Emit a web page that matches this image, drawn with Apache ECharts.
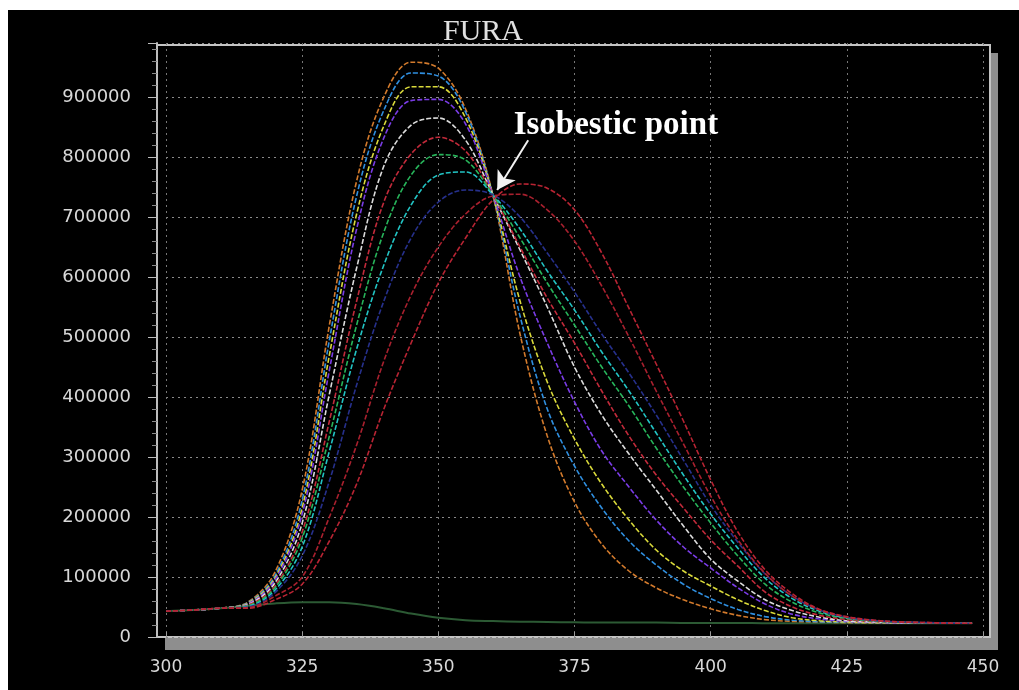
<!DOCTYPE html>
<html>
<head>
<meta charset="utf-8">
<script src="https://cdn.jsdelivr.net/npm/echarts@6/dist/echarts.min.js"></script>
<style>
  html, body { margin: 0; padding: 0; background: #ffffff; }
  #chart { position: absolute; left: 8px; top: 10px; width: 1011px; height: 680px; background: #000; }
</style>
</head>
<body>
<div id="chart"></div>
<script>
// ---- data ----
const wavelengths = [300,305,310,315,320,325,330,335,340,345,350,355,360,365,370,375,380,385,390,395,400,405,410,415,420,425,430,435,440,445,448];

const orange = [43000,45000,48000,58000,108000,245000,520000,760000,900000,958000,948000,880000,737000,505000,335000,225000,155000,110000,82000,62000,47000,36000,29000,26000,25000,24000,23500,23000,23000,23000,23000];
const blue   = [43000,45000,48000,57000,102000,228000,495000,735000,878000,940000,935000,875000,737000,535000,380000,285000,215000,160000,120000,88000,64000,46000,34000,28000,25500,24500,24000,23500,23000,23000,23000];
const yellow = [43000,45000,48000,56000,98000,215000,470000,705000,852000,917000,917000,865000,737000,560000,425000,330000,255000,195000,145000,110000,85000,62000,44000,32000,27000,25000,24000,23500,23000,23000,23000];
const purple = [43000,45000,48000,55000,95000,205000,445000,680000,832000,894000,896000,855000,737000,600000,490000,392000,310000,250000,195000,150000,115000,82000,55000,38000,30000,26000,24500,23500,23000,23000,23000];
const white  = [43000,45000,48000,54000,90000,190000,405000,615000,785000,853000,865000,828000,737000,645000,550000,450000,370000,305000,245000,185000,130000,93000,62000,44000,33000,27000,25000,24000,23500,23000,23000];
const red1   = [43000,45000,48000,53000,85000,175000,360000,560000,725000,805000,833000,810000,737000,650000,565000,490000,410000,335000,270000,215000,162000,118000,75000,50000,36000,29000,26000,24500,23500,23000,23000];
const green  = [43000,45000,48000,52000,82000,165000,335000,520000,675000,770000,804000,795000,737000,665000,590000,520000,450000,385000,315000,250000,190000,135000,88000,58000,40000,31000,26500,24500,23500,23000,23000];
const cyan   = [43000,45000,48000,51000,78000,150000,310000,480000,620000,720000,770000,775000,737000,680000,610000,545000,475000,410000,340000,270000,205000,148000,98000,64000,43000,32000,27000,25000,23500,23000,23000];
const navy   = [43000,45000,48000,50000,74000,135000,260000,420000,560000,665000,725000,745000,737000,700000,640000,575000,505000,440000,370000,295000,220000,158000,105000,68000,45000,33000,27500,25000,24000,23000,23000];
const red2   = [43000,45000,48000,49000,68000,100000,200000,320000,460000,570000,650000,705000,735000,738000,712000,660000,585000,500000,410000,322000,235000,162000,106000,68000,45000,33000,27500,25000,24000,23000,23000];
const red3   = [43000,45000,48000,48000,62000,88000,160000,255000,380000,490000,590000,665000,728000,755000,748000,712000,640000,548000,455000,360000,262000,175000,112000,72000,46000,34000,28000,25000,24000,23000,23000];
const baseline = [43000,45000,48000,52000,56000,58000,58000,55000,48000,39000,32000,28000,26500,25500,25000,24500,24000,24000,24000,23500,23500,23500,23000,23000,23000,23000,23000,23000,23000,23000,23000];

const xTicks = [300,325,350,375,400,425,450];
const yTicks = [0,100000,200000,300000,400000,500000,600000,700000,800000,900000];

const titleText = 'FURA';
const annotationText = 'Isobestic point';
const isoPoint = [360.8, 745000];
const arrowStart = [366.5, 828000];
const labelPoint = [382.6, 853000];

// ---- chart ----
const curves = [
  {name:'c1', data: orange, color:'#d27a2c'},
  {name:'c2', data: blue,   color:'#2f8fe0'},
  {name:'c3', data: yellow, color:'#d9d93a'},
  {name:'c4', data: purple, color:'#7a3ce6'},
  {name:'c5', data: white,  color:'#dcdcdc'},
  {name:'c6', data: red1,   color:'#c22a3a'},
  {name:'c7', data: green,  color:'#27b45a'},
  {name:'c8', data: cyan,   color:'#22c4c4'},
  {name:'c9', data: navy,   color:'#26308c'},
  {name:'c10', data: red2,  color:'#a8202e'},
  {name:'c11', data: red3,  color:'#b82433'}
];

const series = curves.map(c => ({
  name: c.name,
  type: 'line',
  data: wavelengths.map((w, i) => [w, c.data[i]]),
  smooth: 0.35,
  showSymbol: false,
  silent: true,
  animation: false,
  lineStyle: { color: c.color, width: 1.6, type: [5, 2] },
  z: 3
}));

series.unshift({
  name: 'base',
  type: 'line',
  data: wavelengths.map((w, i) => [w, baseline[i]]),
  smooth: 0.35,
  showSymbol: false,
  silent: true,
  animation: false,
  lineStyle: { color: '#2c5a34', width: 2, type: 'solid' },
  z: 3
});

series.push({
  name: 'annot',
  type: 'line',
  data: [],
  silent: true,
  animation: false,
  z: 10,
  markLine: {
    silent: true,
    animation: false,
    symbol: ['none', 'arrow'],
    symbolSize: [16, 18],
    lineStyle: { color: '#f2f2f2', width: 2, type: 'solid' },
    label: { show: false },
    data: [[{ coord: arrowStart }, { coord: isoPoint }]]
  },
  markPoint: {
    silent: true,
    animation: false,
    symbol: 'rect',
    symbolSize: [1, 1],
    itemStyle: { color: 'rgba(0,0,0,0)' },
    label: {
      show: true,
      position: 'inside',
      formatter: annotationText,
      color: '#ffffff',
      fontFamily: 'Liberation Serif',
      fontWeight: 'bold',
      fontSize: 33
    },
    data: [{ coord: labelPoint }]
  }
});

const chart = echarts.init(document.getElementById('chart'), null, { renderer: 'canvas' });
chart.setOption({
  backgroundColor: '#000000',
  animation: false,
  title: {
    text: titleText,
    left: 470,
    top: 2,
    textAlign: 'center',
    textStyle: { color: '#e0e0e0', fontFamily: 'Liberation Serif', fontWeight: 'normal', fontSize: 30 }
  },
  graphic: [
    { type: 'rect', z: -10, silent: true, shape: { x: 157, y: 43, width: 833, height: 597 }, style: { fill: '#8e8e8e' } },
    { type: 'rect', z: -9, silent: true, shape: { x: 149, y: 35, width: 833, height: 592 }, style: { fill: '#000000', stroke: '#c4c4c4', lineWidth: 2 } }
  ],
  grid: { left: 158, right: 36, top: 33, bottom: 53 },
  xAxis: {
    type: 'value',
    min: 300,
    max: 450,
    interval: 25,
    axisLine: { show: false },
    axisTick: { show: true, inside: true, length: 5, lineStyle: { color: '#9a9a9a' } },
    axisLabel: {
      color: '#d8d8d8', fontFamily: 'DejaVu Sans', fontSize: 17, margin: 22,
      formatter: v => (xTicks.indexOf(v) >= 0 ? String(v) : '')
    },
    splitLine: { show: true, lineStyle: { color: '#777777', type: [2, 4], width: 1 } }
  },
  yAxis: {
    type: 'value',
    min: 0,
    max: 990000,
    interval: 100000,
    offset: 9,
    axisLine: { show: true, lineStyle: { color: '#bdbdbd', width: 2 } },
    axisTick: { show: true, length: 9, lineStyle: { color: '#bdbdbd' } },
    minorTick: { show: true, splitNumber: 5, length: 5, lineStyle: { color: '#8a8a8a' } },
    axisLabel: {
      color: '#d8d8d8', fontFamily: 'DejaVu Sans', fontSize: 18, margin: 26,
      showMaxLabel: false,
      formatter: v => (yTicks.indexOf(v) >= 0 ? String(v) : '')
    },
    splitLine: { show: true, lineStyle: { color: '#8a8a8a', type: [2, 4], width: 1 } }
  },
  series: series
});
</script>
</body>
</html>
